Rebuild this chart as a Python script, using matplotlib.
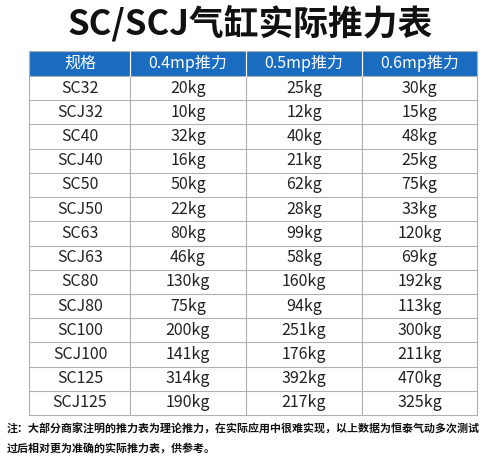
import matplotlib.pyplot as plt
from matplotlib.patches import Rectangle

plt.rcParams['font.family'] = ['Noto Sans CJK SC', 'DejaVu Sans']

title = "SC/SCJ气缸实际推力表"
headers = ["规格", "0.4mp推力", "0.5mp推力", "0.6mp推力"]
models = ["SC32", "SCJ32", "SC40", "SCJ40", "SC50", "SCJ50", "SC63", "SCJ63",
          "SC80", "SCJ80", "SC100", "SCJ100", "SC125", "SCJ125"]
force_04 = [20, 10, 32, 16, 50, 22, 80, 46, 130, 75, 200, 141, 314, 190]
force_05 = [25, 12, 40, 21, 62, 28, 99, 58, 160, 94, 251, 176, 392, 217]
force_06 = [30, 15, 48, 25, 75, 33, 120, 69, 192, 113, 300, 211, 470, 325]
note = ("注：大部分商家注明的推力表为理论推力，在实际应用中很难实现，以上数据为恒泰气动多次测试\n"
        "过后相对更为准确的实际推力表，供参考。")

W, H = 500, 467
fig = plt.figure(figsize=(W / 100, H / 100), dpi=100)
ax = fig.add_axes([0, 0, 1, 1])
ax.set_xlim(0, W)
ax.set_ylim(H, 0)
ax.axis('off')

col_x = [29, 130, 246, 362, 477]
top, head_h = 51, 25
row_h = (415 - (top + head_h)) / len(models)
line_c = '#b0b0b0'

ax.text(W / 2, 23, title, ha='center', va='center', fontsize=25,
        fontweight='black', color='#111111')

ax.add_patch(Rectangle((col_x[0], top), col_x[-1] - col_x[0], head_h,
                       facecolor='#1a6cc0', edgecolor=line_c, lw=0.8))
for i, h in enumerate(headers):
    cx = (col_x[i] + col_x[i + 1]) / 2 if i else 80
    ax.text(cx, top + head_h / 2, h, ha='center', va='center',
            fontsize=11.5, color='white')

y0 = top + head_h
for r, m in enumerate(models):
    y = y0 + r * row_h
    vals = [m, f"{force_04[r]}kg", f"{force_05[r]}kg", f"{force_06[r]}kg"]
    for i, v in enumerate(vals):
        cx = 80 if i == 0 else (col_x[i] + col_x[i + 1]) / 2
        ax.text(cx, y + row_h / 2, v, ha='center', va='center',
                fontsize=11.5, color='#222222')
    ax.plot([col_x[0], col_x[-1]], [y + row_h, y + row_h], color=line_c, lw=0.8)

bottom = y0 + len(models) * row_h
for x in col_x:
    ax.plot([x, x], [top, bottom], color=line_c, lw=0.8)
for x in col_x[1:-1]:
    ax.plot([x, x], [top, y0], color='white', lw=0.8)

ax.text(7, 424, note, ha='left', va='top', fontsize=7.9, color='#111111',
        fontweight='bold', linespacing=1.9)

fig.savefig("out.png", dpi=100)
